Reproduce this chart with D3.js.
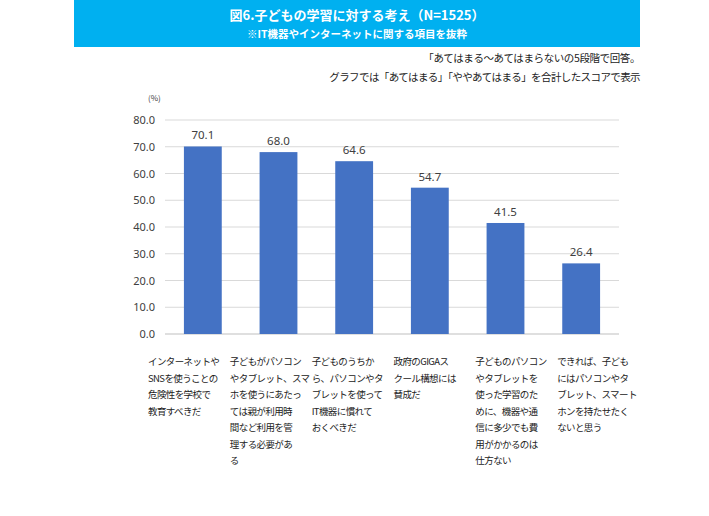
<!DOCTYPE html>
<html><head><meta charset="utf-8">
<script src="https://cdn.jsdelivr.net/npm/d3@7"></script>
<style>body{margin:0;background:#fff;font-family:"Noto Sans CJK JP",sans-serif;}</style>
</head><body><svg id="c" width="709" height="516"></svg>
<script>
var categories = ["c1","c2","c3","c4","c5","c6"];
var labels = [
  ["インターネットや","SNSを使うことの","危険性を学校で","教育すべきだ"],
  ["子どもがパソコン","やタブレット、スマ","ホを使うにあたっ","ては親が利用時","間など利用を管","理する必要があ","る"],
  ["子どものうちか","ら、パソコンやタ","ブレットを使って","IT機器に慣れて","おくべきだ"],
  ["政府のGIGAス","クール構想には","賛成だ"],
  ["子どものパソコン","やタブレットを","使った学習のた","めに、機器や通","信に多少でも費","用がかかるのは","仕方ない"],
  ["できれば、子ども","にはパソコンやタ","ブレット、スマート","ホンを持たせたく","ないと思う"]
];
var values = [70.1, 68.0, 64.6, 54.7, 41.5, 26.4];
var ticks = [0,10,20,30,40,50,60,70,80];

var svg = d3.select("#c");
svg.append("rect").attr("x",74).attr("y",0).attr("width",566).attr("height",47).attr("fill","#00b0f0");
svg.append("text").attr("x",357).attr("y",20).attr("text-anchor","middle").attr("fill","#fff")
  .attr("font-size",13).attr("font-weight","bold").text("図6.子どもの学習に対する考え（N=1525）");
svg.append("text").attr("x",357).attr("y",38).attr("text-anchor","middle").attr("fill","#fff")
  .attr("font-size",10.5).attr("font-weight","bold").text("※IT機器やインターネットに関する項目を抜粋");
svg.append("text").attr("x",640).attr("y",62).attr("text-anchor","end").attr("font-size",10.5).attr("fill","#222")
  .attr("letter-spacing",-0.4).text("「あてはまる～あてはまらないの5段階で回答。");
svg.append("text").attr("x",640).attr("y",81).attr("text-anchor","end").attr("font-size",10.5).attr("fill","#222")
  .attr("letter-spacing",-0.6).text("グラフでは「あてはまる」「ややあてはまる」を合計したスコアで表示");

var y = d3.scaleLinear().domain([0,80]).range([334,120]);
var x = d3.scaleBand().domain(categories).range([165,619]).paddingInner(0.5).paddingOuter(0.25);
var xl = d3.scaleBand().domain(categories).range([148,639]);

svg.append("g").selectAll("line").data(ticks).join("line")
  .attr("x1",165).attr("x2",619).attr("y1",d=>y(d)).attr("y2",d=>y(d))
  .attr("stroke",d=>d===0?"#bfbfbf":"#d9d9d9").attr("stroke-width",1);
svg.append("g").selectAll("text").data(ticks).join("text")
  .attr("x",155).attr("y",d=>y(d)+4).attr("text-anchor","end").attr("font-size",11).attr("fill","#404040")
  .attr("font-family","Noto Sans").text(d=>d.toFixed(1));
svg.append("text").attr("x",148).attr("y",101).attr("font-size",8).attr("fill","#404040").text("(%)");

svg.append("g").selectAll("rect").data(values).join("rect")
  .attr("x",(d,i)=>x(categories[i])).attr("width",x.bandwidth())
  .attr("y",d=>y(d)).attr("height",d=>y(0)-y(d)).attr("fill","#4472c4");
svg.append("g").selectAll("text").data(values).join("text")
  .attr("x",(d,i)=>x(categories[i])+x.bandwidth()/2).attr("y",d=>y(d)-7)
  .attr("text-anchor","middle").attr("font-size",11.5).attr("fill","#404040").attr("font-family","Noto Sans")
  .text(d=>d.toFixed(1));

labels.forEach(function(lines,i){
  var t = svg.append("text").attr("font-size",9.5).attr("letter-spacing",-0.6).attr("fill","#222");
  lines.forEach(function(l,j){ t.append("tspan").attr("x",xl(categories[i])).attr("y",365+j*16.5).text(l); });
});
</script></body></html>
